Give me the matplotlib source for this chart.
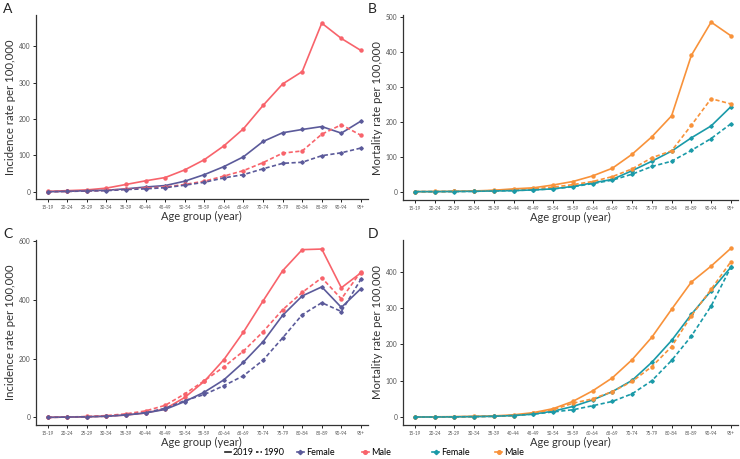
import matplotlib
matplotlib.use("Agg")
import matplotlib.pyplot as plt
from matplotlib.lines import Line2D

plt.rcParams['font.family'] = ['Lato', 'DejaVu Sans']

ages = ['15-19', '20-24', '25-29', '30-34', '35-39', '40-44', '45-49', '50-54', '55-59',
        '60-64', '65-69', '70-74', '75-79', '80-84', '85-89', '90-94', '95+']

# Panel A - incidence
a_male_2019 = [1, 3, 5, 10, 20, 30, 39, 60, 88, 126, 173, 237, 296, 330, 463, 421, 388]
a_female_2019 = [0, 1, 3, 4, 8, 13, 17, 29, 47, 69, 96, 138, 162, 171, 179, 161, 194]
a_male_1990 = [0, 1, 2, 4, 7, 10, 13, 20, 29, 43, 58, 80, 106, 112, 158, 184, 155]
a_female_1990 = [0, 1, 2, 3, 6, 8, 11, 18, 26, 38, 47, 63, 78, 81, 99, 107, 120]

# Panel B - mortality
b_male_2019 = [0, 0.5, 1, 2, 4, 8, 11, 19, 29, 45, 67, 107, 157, 217, 390, 485, 446]
b_female_2019 = [0, 0, 0.5, 1, 2, 3, 5, 8, 15, 25, 35, 60, 87, 116, 154, 188, 243]
b_male_1990 = [0, 0, 0.5, 1.5, 3, 5, 8, 13, 20, 29, 43, 65, 97, 117, 190, 266, 251]
b_female_1990 = [0, 0, 0.3, 0.8, 2, 3, 5, 8, 14, 23, 33, 50, 72, 87, 118, 152, 194]

# Panel C - incidence
c_male_2019 = [0, 1, 2, 4, 8, 15, 29, 68, 123, 197, 291, 397, 500, 572, 574, 442, 493]
c_female_2019 = [0, 1, 2, 4, 8, 15, 27, 54, 86, 128, 188, 258, 348, 414, 445, 375, 439]
c_male_1990 = [0, 1, 3, 6, 12, 22, 41, 80, 125, 172, 226, 292, 367, 426, 476, 404, 497]
c_female_1990 = [0, 1, 2, 4, 9, 16, 31, 57, 78, 108, 142, 195, 271, 350, 391, 361, 471]

# Panel D - mortality
d_male_2019 = [0, 0.5, 1, 2, 3, 6, 12, 23, 43, 72, 108, 158, 220, 297, 372, 416, 465]
d_female_2019 = [0, 0, 0.5, 1, 2, 4, 8, 16, 29, 47, 70, 101, 151, 211, 283, 348, 413]
d_male_1990 = [0, 0, 0.5, 1, 2, 4, 10, 20, 38, 50, 70, 98, 139, 194, 279, 352, 428]
d_female_1990 = [0, 0, 0.3, 1, 2, 4, 8, 14, 20, 31, 43, 64, 100, 156, 223, 306, 413]

red = '#F8636B'
purple = '#5B5A9A'
teal = '#1A9AA8'
orange = '#F8923A'

fig = plt.figure(figsize=(7.4, 4.59), dpi=100)

panels = [
    ('A', [0.0486, 0.5664, 0.4484, 0.4006], 'Incidence rate per 100,000', (-20, 485), [0, 100, 200, 300, 400],
     purple, red, a_female_2019, a_male_2019, a_female_1990, a_male_1990),
    ('B', [0.5446, 0.5642, 0.4524, 0.4028], 'Mortality rate per 100,000', (-24, 505), [0, 100, 200, 300, 400, 500],
     teal, orange, b_female_2019, b_male_2019, b_female_1990, b_male_1990),
    ('C', [0.0486, 0.0741, 0.4484, 0.4031], 'Incidence rate per 100,000', (-26, 605), [0, 200, 400, 600],
     purple, red, c_female_2019, c_male_2019, c_female_1990, c_male_1990),
    ('D', [0.5446, 0.0741, 0.4524, 0.4031], 'Mortality rate per 100,000', (-22, 488), [0, 100, 200, 300, 400],
     teal, orange, d_female_2019, d_male_2019, d_female_1990, d_male_1990),
]

x = list(range(len(ages)))
for letter, rect, ylabel, ylim, yticks, fcol, mcol, f19, m19, f90, m90 in panels:
    ax = fig.add_axes(rect)
    ax.plot(x, m19, '-', color=mcol, lw=1.2, marker='o', ms=2.2)
    ax.plot(x, f19, '-', color=fcol, lw=1.2, marker='D', ms=1.8)
    ax.plot(x, m90, '--', color=mcol, lw=1.2, marker='o', ms=2.2, dashes=(2.5, 1.5))
    ax.plot(x, f90, '--', color=fcol, lw=1.2, marker='D', ms=1.8, dashes=(2.5, 1.5))
    ax.set_xlim(-0.6, 16.35)
    ax.set_ylim(*ylim)
    ax.set_yticks(yticks)
    ax.set_xticks(x)
    ax.set_xticklabels(ages, fontsize=3.3, color='#555555')
    ax.tick_params(axis='y', labelsize=4.8, labelcolor='#555555', length=2, width=0.6, pad=2)
    ax.tick_params(axis='x', length=2, width=0.6, pad=2)
    for s in ['top', 'right']:
        ax.spines[s].set_visible(False)
    for s in ['left', 'bottom']:
        ax.spines[s].set_linewidth(0.9)
        ax.spines[s].set_color('#333333')
    ax.set_ylabel(ylabel, fontsize=8.2, color='#333333', labelpad=2)
    ax.set_xlabel('Age group (year)', fontsize=8, color='#333333', labelpad=1)
    fig.text(rect[0] - 0.044 if letter in 'AC' else rect[0] - 0.047, rect[1] + rect[3] + 0.014,
             letter, fontsize=10, color='#222222', va='center')

# legends along the bottom
leg_y = 0.014
h_year = [Line2D([], [], color='#222222', lw=1.2, ls='-'),
          Line2D([], [], color='#222222', lw=1.2, ls='--', dashes=(1.5, 1.2))]
fig.legend(h_year, ['2019', '1990'], loc='center left', bbox_to_anchor=(0.304, leg_y), ncol=2,
           frameon=False, fontsize=6.5, handlelength=0.7, handletextpad=0.1, columnspacing=0.3,
           borderpad=0, borderaxespad=0)

legend_items = [
    (purple, 'D', 2.2, 'Female', 0.401),
    (red, 'o', 2.6, 'Male', 0.489),
    (teal, 'D', 2.2, 'Female', 0.584),
    (orange, 'o', 2.6, 'Male', 0.669),
]
for col, mk, ms, lab, xpos in legend_items:
    h = Line2D([], [], color=col, lw=1.2, marker=mk, ms=ms)
    fig.legend([h], [lab], loc='center left', bbox_to_anchor=(xpos, leg_y), frameon=False,
               fontsize=6.5, handlelength=0.8, handletextpad=0.2, borderpad=0, borderaxespad=0)

fig.savefig('out.png', dpi=100)
